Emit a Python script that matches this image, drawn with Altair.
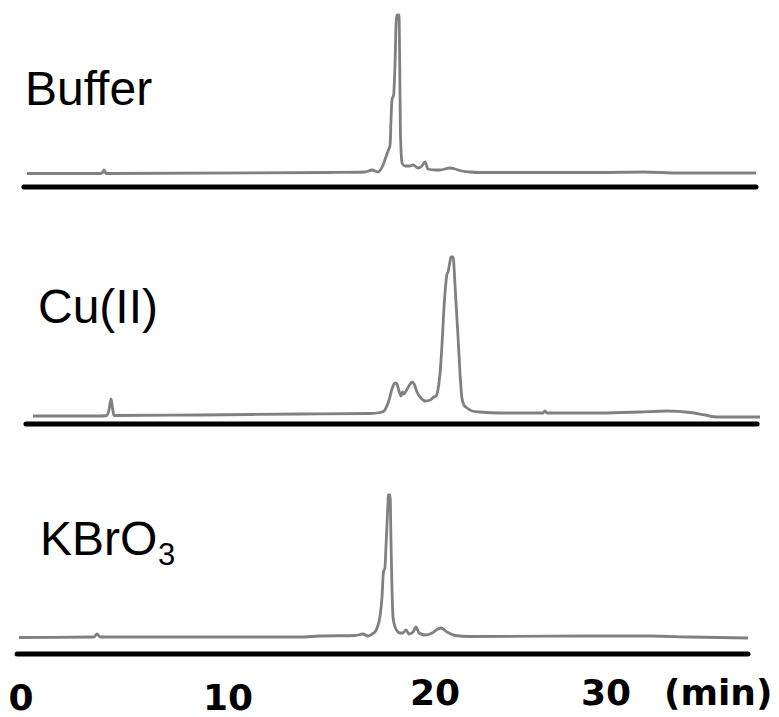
import altair as alt
import pandas as pd

# ---- data (time in min, signal in arbitrary units) ----
buffer_t = [0.29, 3.82, 3.96, 4.01, 4.11, 14.93, 16.62, 16.96, 17.25, 17.49, 17.58, 17.73, 17.83,
            17.87, 17.92, 18.00, 18.07, 18.12, 18.16, 18.26, 18.30, 18.33, 18.41, 18.55, 18.79,
            18.94, 19.18, 19.37, 19.52, 19.66, 20.00, 20.24, 20.72, 20.97, 21.30, 21.69, 22.17,
            27.97, 30.05, 31.84, 35.51]
buffer_s = [-0.5, -0.5, 1, 3, -0.5, 0.5, 1, 3, 1, 8, 13, 22, 28,
            50, 73, 78, 110, 150, 158, 158, 100, 40, 10, 7, 7,
            8, 5, 7, 11, 4, 3, 3, 5, 4, 2, 1, 0.5,
            0.5, 1, 0, 0]

cu_t = [0.58, 3.82, 4.15, 4.25, 4.35, 4.42, 4.49, 8.65, 13.48, 16.86, 17.34, 17.54, 17.63, 17.78,
        17.92, 18.07, 18.16, 18.26, 18.36, 18.43, 18.50, 18.60, 18.74, 18.89, 18.99, 19.13, 19.32,
        19.52, 19.76, 19.95, 20.05, 20.14, 20.24, 20.34, 20.43, 20.53, 20.58, 20.63, 20.72, 20.77,
        20.87, 20.97, 21.06, 21.11, 21.21, 21.30, 21.40, 21.55, 21.79, 22.17, 23.14, 25.22, 25.31,
        25.41, 27.97, 29.90, 31.21, 32.32, 33.04, 33.62, 35.70]
cu_s = [-2, -2, -1.5, 4, 15, 6, -1.5, -1, 0, 0.5, 1.5, 3, 6, 14,
        25, 31, 30, 23, 18, 22, 20, 23, 28, 32, 30, 22, 16,
        13, 14, 17, 18, 24, 40, 70, 105, 132, 140, 142, 152, 157,
        157, 128, 95, 78, 40, 16, 9, 6, 3, 2, 1, 1, 3,
        1, 1, 2, 3, 1.5, -1, -3, -3]

kbro_t = [-0.10, 3.53, 3.67, 3.82, 13.48, 14.44, 16.14, 16.52, 16.76, 16.96, 17.10, 17.25, 17.34,
          17.44, 17.51, 17.58, 17.63, 17.71, 17.75, 17.83, 17.87, 17.92, 17.97, 18.07, 18.31,
          18.45, 18.60, 18.74, 18.94, 19.08, 19.23, 19.52, 19.86, 20.14, 20.29, 20.58, 20.97,
          21.69, 27.97, 30.39, 32.32, 35.12]
kbro_s = [-0.5, 0, 3, 0, 0, 1, 1.5, 3, 1, 3, 5, 12, 20,
          40, 65, 69, 90, 125, 142, 142, 100, 50, 20, 10, 4,
          4, 7, 3, 5, 10, 4, 2, 4, 8, 9, 5, 1.5,
          0.5, 1, 1, 0, -1]

series_names = ["Buffer", "Cu(II)", "KBrO"]
baseline_start = [0.14, 0.24, -0.19]
baseline_end = [35.51, 35.56, 35.12]

tick_values = [0, 10, 20, 28.26]
tick_labels = ["0", "10", "20", "30"]
unit_label = "(min)"

# ---- layout (offsets of each stacked trace, in y units) ----
trace_offset = [544, 303, 80]
rule_offset = [530, 293, 63]
name_pos_t = [0.19, 0.82, 0.92]
name_pos_y = [612, 394, 162]

rows = []
for name, ts, ss, off in zip(series_names, [buffer_t, cu_t, kbro_t],
                             [buffer_s, cu_s, kbro_s], trace_offset):
    for t, s in zip(ts, ss):
        rows.append({"series": name, "t": t, "y": off + s})
traces = pd.DataFrame(rows)

rules = pd.DataFrame({"series": series_names, "t": baseline_start,
                      "t2": baseline_end, "y": rule_offset})
names = pd.DataFrame({"label": ["Buffer", "Cu(II)", "KBrO"], "t": name_pos_t, "y": name_pos_y})
sub = pd.DataFrame({"label": ["3"], "t": [6.62], "y": [152]})
ticks = pd.DataFrame({"label": tick_labels, "t": tick_values, "y": [7, 7, 12, 12]})
unit = pd.DataFrame({"label": [unit_label], "t": [36.3], "y": [12]})

xs = alt.Scale(domain=[-1.0145, 36.618], nice=False, zero=False)
ys = alt.Scale(domain=[0, 717], nice=False, zero=False)
X = lambda f: alt.X(f, type="quantitative", scale=xs, axis=None)
Y = lambda f: alt.Y(f, type="quantitative", scale=ys, axis=None)

lines = alt.Chart(traces).mark_line(
    color="#808080", strokeWidth=2.8, interpolate="monotone"
).encode(x=X("t"), y=Y("y"), detail="series:N", order="t:Q")

base_rules = alt.Chart(rules).mark_rule(
    color="black", strokeWidth=5, strokeCap="round"
).encode(x=X("t"), x2="t2:Q", y=Y("y"))

name_text = alt.Chart(names).mark_text(
    align="left", baseline="alphabetic", font="Liberation Sans", fontSize=48, color="black"
).encode(x=X("t"), y=Y("y"), text="label:N")

sub_text = alt.Chart(sub).mark_text(
    align="left", baseline="alphabetic", font="Liberation Sans", fontSize=31, color="black"
).encode(x=X("t"), y=Y("y"), text="label:N")

tick_text = alt.Chart(ticks).mark_text(
    align="center", baseline="alphabetic", font="DejaVu Sans", fontSize=36,
    fontWeight="bold", color="black"
).encode(x=X("t"), y=Y("y"), text="label:N")

unit_text = alt.Chart(unit).mark_text(
    align="right", baseline="alphabetic", font="DejaVu Sans", fontSize=36,
    fontWeight="bold", color="black"
).encode(x=X("t"), y=Y("y"), text="label:N")

chart = alt.layer(lines, base_rules, name_text, sub_text, tick_text, unit_text).properties(
    width=779, height=717, padding=0, autosize=alt.AutoSizeParams(type="none"),
    background="white"
).configure_view(stroke=None)

chart.save("out.html", embed_options={"renderer": "svg", "actions": False})
